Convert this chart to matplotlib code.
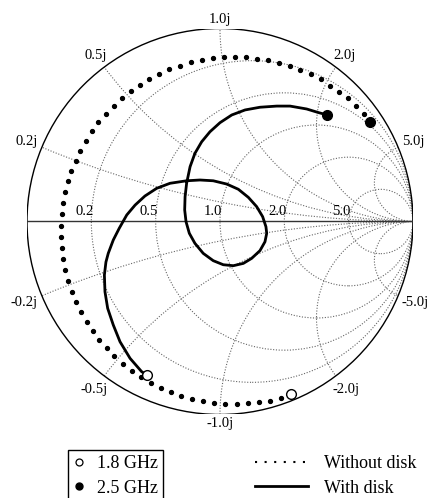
import numpy as np
import matplotlib.pyplot as plt
from matplotlib.patches import Circle
from matplotlib.lines import Line2D

plt.rcParams['font.family'] = ['Liberation Serif', 'DejaVu Serif']

# Smith chart grid values
r_values = [0.2, 0.5, 1.0, 2.0, 5.0]
x_values = [0.2, 0.5, 1.0, 2.0, 5.0]

# Reflection coefficient, without disk (1.8 GHz -> 2.5 GHz)
without_re = [0.366, 0.315, 0.259, 0.201, 0.144, 0.087, 0.027, -0.031, -0.088, -0.145,
              -0.201, -0.255, -0.307, -0.359, -0.411, -0.458, -0.504, -0.548, -0.587, -0.625,
              -0.660, -0.691, -0.720, -0.746, -0.768, -0.789, -0.803, -0.812, -0.820, -0.825,
              -0.824, -0.820, -0.815, -0.803, -0.789, -0.772, -0.748, -0.724, -0.696, -0.665,
              -0.631, -0.592, -0.551, -0.508, -0.463, -0.415, -0.366, -0.315, -0.263, -0.207,
              -0.152, -0.095, -0.038, 0.021, 0.078, 0.135, 0.193, 0.250, 0.307, 0.363,
              0.415, 0.470, 0.522, 0.570, 0.617, 0.663, 0.705, 0.746, 0.777]
without_im = [-0.894, -0.916, -0.928, -0.937, -0.942, -0.946, -0.946, -0.940, -0.932, -0.920,
              -0.903, -0.883, -0.861, -0.835, -0.804, -0.773, -0.737, -0.698, -0.657, -0.614,
              -0.567, -0.519, -0.469, -0.417, -0.364, -0.307, -0.251, -0.194, -0.136, -0.079,
              -0.022, 0.037, 0.094, 0.151, 0.208, 0.263, 0.315, 0.367, 0.419, 0.467,
              0.514, 0.557, 0.598, 0.638, 0.676, 0.707, 0.738, 0.764, 0.789, 0.807,
              0.828, 0.838, 0.846, 0.852, 0.852, 0.851, 0.844, 0.835, 0.823, 0.806,
              0.787, 0.764, 0.737, 0.704, 0.673, 0.638, 0.598, 0.555, 0.517]

# Reflection coefficient, with disk (1.8 GHz -> 2.5 GHz)
with_re = [-0.380, -0.406, -0.466, -0.518, -0.553, -0.582, -0.596, -0.599, -0.591, -0.579,
           -0.553, -0.522, -0.483, -0.440, -0.389, -0.328, -0.259, -0.173, -0.104, -0.035,
           0.035, 0.095, 0.147, 0.190, 0.221, 0.238, 0.242, 0.233, 0.207, 0.164,
           0.121, 0.069, 0.017, -0.035, -0.087, -0.130, -0.159, -0.176, -0.183, -0.181,
           -0.173, -0.155, -0.130, -0.095, -0.052, 0.000, 0.061, 0.130, 0.207, 0.294,
           0.363, 0.449, 0.508, 0.556]
with_im = [-0.795, -0.778, -0.709, -0.623, -0.536, -0.450, -0.364, -0.277, -0.210, -0.165,
           -0.096, -0.035, 0.034, 0.085, 0.132, 0.172, 0.198, 0.211, 0.215, 0.211,
           0.194, 0.167, 0.125, 0.077, 0.025, -0.027, -0.061, -0.105, -0.151, -0.191,
           -0.217, -0.229, -0.224, -0.203, -0.165, -0.113, -0.061, -0.001, 0.060, 0.128,
           0.198, 0.284, 0.353, 0.413, 0.465, 0.512, 0.552, 0.578, 0.592, 0.598,
           0.598, 0.583, 0.565, 0.552]

fig = plt.figure(figsize=(4.31, 4.98), dpi=100)
ax = fig.add_axes([27 / 431, 83.5 / 498, 386 / 431, 386 / 498])
ax.set_xlim(-1, 1)
ax.set_ylim(-1, 1)
ax.set_aspect('equal')
ax.axis('off')

grid_kw = dict(fill=False, edgecolor='0.4', linewidth=0.8, linestyle=(0, (1, 1.5)))
unit = Circle((0, 0), 1, transform=ax.transData)

# constant resistance circles
for r in r_values:
    ax.add_patch(Circle((r / (1 + r), 0), 1 / (1 + r), **grid_kw))
    ax.text((r - 1) / (r + 1) - 0.036, 0.05, f'{r:.1f}', ha='center', va='center', fontsize=10.5)

# constant reactance arcs
for x in x_values:
    for s in (1, -1):
        arc = Circle((1, s / x), 1 / x, **grid_kw)
        ax.add_patch(arc)
        arc.set_clip_path(unit)
        g = (1j * s * x - 1) / (1j * s * x + 1)
        th = np.angle(g)
        label = f'{s * x:.1f}j'
        w = len(label) * 5.6
        d = (4 + abs(np.cos(th)) * w / 2 + abs(np.sin(th)) * 5) / 193
        ax.text(g.real * (1 + d), g.imag * (1 + d), label, ha='center', va='center', fontsize=10.5)

ax.add_patch(Circle((0, 0), 1, fill=False, edgecolor='black', linewidth=1.0))
ax.plot([-1, 1], [0, 0], color='0.2', linewidth=1.0)

# traces
ax.plot(without_re[1:-1], without_im[1:-1], 'o', color='black', markersize=2.8, linestyle='none')
ax.plot(with_re, with_im, color='black', linewidth=2.0, solid_joinstyle='round')

ax.plot([without_re[0], with_re[0]], [without_im[0], with_im[0]], 'o', markersize=7,
        markerfacecolor='white', markeredgecolor='black', markeredgewidth=1.0, linestyle='none')
ax.plot([without_re[-1], with_re[-1]], [without_im[-1], with_im[-1]], 'o', markersize=7,
        color='black', linestyle='none')

# legends
freq_handles = [Line2D([], [], marker='o', markersize=5, markerfacecolor='white',
                       markeredgecolor='black', markeredgewidth=0.9, linestyle='none'),
                Line2D([], [], marker='o', markersize=5, color='black', linestyle='none')]
leg1 = fig.legend(freq_handles, ['1.8 GHz', '2.5 GHz'], loc='upper left',
                  bbox_to_anchor=(68 / 431, 1 - 450 / 498), fontsize=13, frameon=True,
                  fancybox=False, edgecolor='black', framealpha=1, borderaxespad=0,
                  borderpad=0.3, handlelength=0.6, handletextpad=0.7, labelspacing=0.4)
leg1.get_frame().set_linewidth(1.0)

trace_handles = [Line2D([], [], color='black', linewidth=1.5, linestyle=(0, (1, 3.6))),
                 Line2D([], [], color='black', linewidth=2.0)]
fig.legend(trace_handles, ['Without disk', 'With disk'], loc='upper left',
           bbox_to_anchor=(250 / 431, 1 - 450 / 498), fontsize=13, frameon=False,
           borderaxespad=0, borderpad=0.3, handlelength=2.9, handletextpad=0.9,
           labelspacing=0.4)

fig.savefig('out.png', dpi=100)
